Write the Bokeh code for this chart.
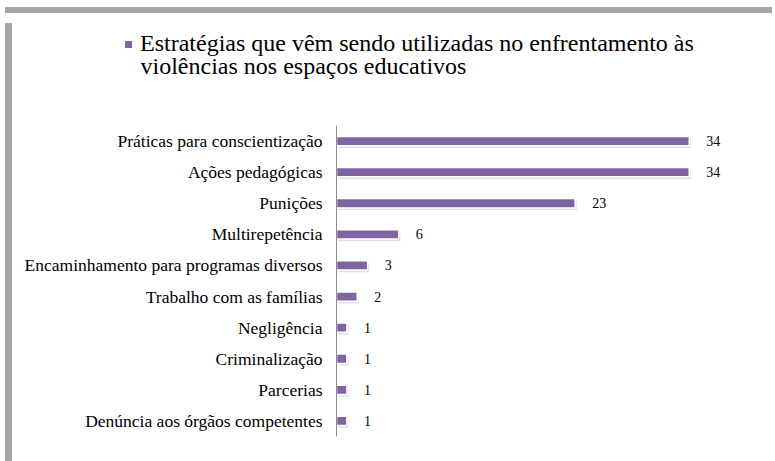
from bokeh.plotting import figure
from bokeh.layouts import column, row
from bokeh.models import (ColumnDataSource, FactorRange, Range1d, Legend, LegendItem,
                          Label, LabelSet, Div, Spacer)
from bokeh.transform import dodge
from bokeh.embed import file_html
from bokeh.resources import INLINE

categories = ["Práticas para conscientização", "Ações pedagógicas", "Punições",
              "Multirepetência", "Encaminhamento para programas diversos",
              "Trabalho com as famílias", "Negligência", "Criminalização",
              "Parcerias", "Denúncia aos órgãos competentes"]
values = [34, 34, 23, 6, 3, 2, 1, 1, 1, 1]
series_line1 = "Estratégias que vêm sendo utilizadas no enfrentamento às"
series_line2 = "violências nos espaços educativos"

BAR_COLOR = "#8064a2"
src = ColumnDataSource(dict(cat=categories, val=values, lbl=[str(v) for v in values]))

# ---- top area with the legend (series renderer kept out of view) ----
top = figure(width=760, height=90, x_range=Range1d(-20, -10),
             y_range=FactorRange(*reversed(categories)),
             output_backend="svg", toolbar_location=None,
             x_axis_location=None, y_axis_location=None,
             min_border=0, min_border_left=0, min_border_right=0,
             min_border_top=0, min_border_bottom=0)
top.outline_line_color = None
top.grid.visible = False
legend_glyph = top.hbar(y="cat", left=0, right="val", height=0.3, source=src,
                        fill_color=BAR_COLOR, line_color="white", line_width=1)
legend = Legend(items=[LegendItem(label=series_line1, renderers=[legend_glyph])],
                location=(106, 51), label_text_font="Liberation Serif",
                label_text_font_size="24px", label_text_color="#000000",
                glyph_width=10, glyph_height=10, label_standoff=7,
                padding=0, margin=0, border_line_color=None,
                background_fill_alpha=0)
top.add_layout(legend)
top.add_layout(Label(x=123, y=43, x_units="screen", y_units="screen",
                     text=series_line2, text_font="Liberation Serif",
                     text_font_size="24px", text_color="#000000",
                     text_baseline="alphabetic"))

# ---- main bar chart ----
p = figure(width=760, height=357,
           y_range=FactorRange(*reversed(categories)),
           x_range=Range1d(0, 40),
           output_backend="svg", toolbar_location=None, x_axis_location=None,
           min_border_left=319, min_border_right=26,
           min_border_top=17, min_border_bottom=29)

p.outline_line_color = None
p.xgrid.visible = False
p.ygrid.visible = False
p.yaxis.major_tick_line_color = None
p.yaxis.minor_tick_line_color = None
p.yaxis.axis_line_color = "#8c8c8c"
p.yaxis.major_label_text_font = "Liberation Serif"
p.yaxis.major_label_text_font_size = "17.5px"
p.yaxis.major_label_text_color = "#000000"
p.yaxis.major_label_standoff = 8

# soft shadow under bars
p.hbar(y=dodge("cat", -0.07, range=p.y_range), left=0.15, right=dodge("val", 0.15),
       height=0.3, source=src, fill_color="#000000", fill_alpha=0.12, line_color=None)
bars = p.hbar(y="cat", left=0, right="val", height=0.3, source=src,
              fill_color=BAR_COLOR, line_color="white", line_width=1.5)

labels = LabelSet(x="val", y="cat", text="lbl", source=src, x_offset=17,
                  text_baseline="middle", text_align="left",
                  text_font="Liberation Sans", text_font_size="14px",
                  text_color="#000000")
p.add_layout(labels)

# ---- chart-area frame edges (gray top and left bars) ----
STRIPE = {"background-color": "#a6a6a6"}
top_stripe = Div(text="", width=767, height=6, styles=STRIPE)
left_stripe = Div(text="", width=7, height=447, styles=STRIPE)

layout = column(
    Spacer(width=767, height=2),
    top_stripe,
    row(left_stripe, column(row(top), p, spacing=0), spacing=0),
    spacing=0)

open("out.html", "w").write(file_html(layout, INLINE))
